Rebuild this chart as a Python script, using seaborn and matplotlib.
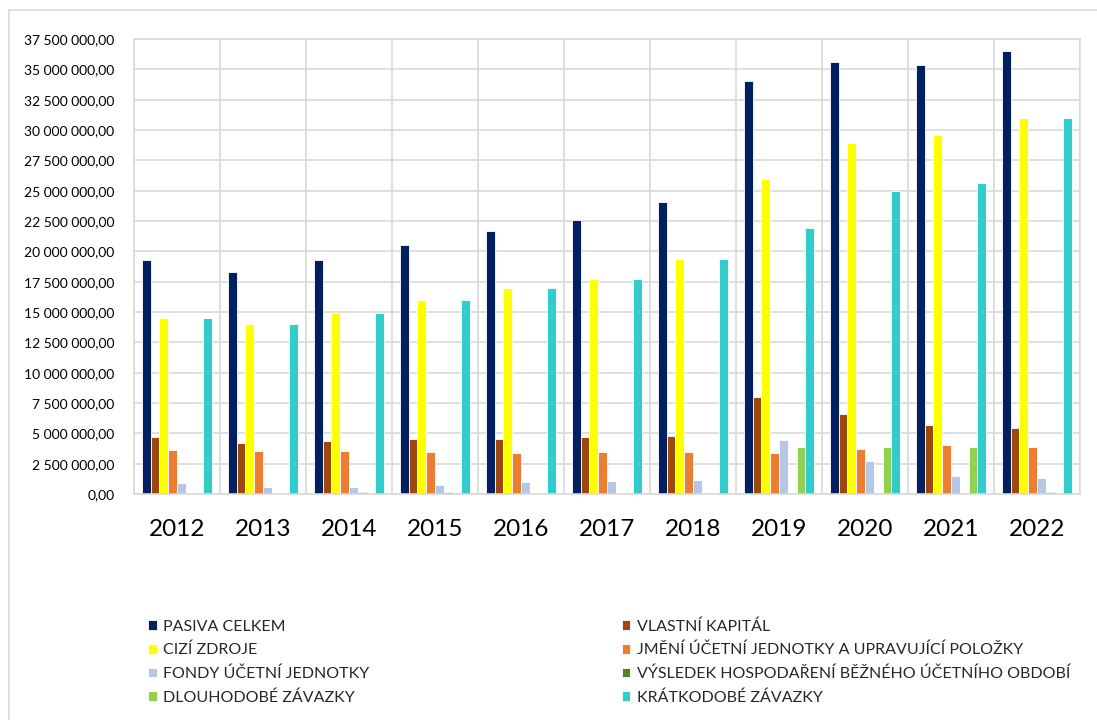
import pandas as pd
import matplotlib.pyplot as plt
import seaborn as sns
from matplotlib.ticker import FuncFormatter, MultipleLocator
from matplotlib.lines import Line2D

years = ["2012", "2013", "2014", "2015", "2016", "2017", "2018", "2019", "2020", "2021", "2022"]

series = [
    "PASIVA CELKEM",
    "VLASTNÍ KAPITÁL",
    "CIZÍ ZDROJE",
    "JMĚNÍ ÚČETNÍ JEDNOTKY A UPRAVUJÍCÍ POLOŽKY",
    "FONDY ÚČETNÍ JEDNOTKY",
    "VÝSLEDEK HOSPODAŘENÍ BĚŽNÉHO ÚČETNÍHO OBDOBÍ",
    "DLOUHODOBÉ ZÁVAZKY",
    "KRÁTKODOBÉ ZÁVAZKY",
]

pasiva = [19.3, 18.3, 19.25, 20.55, 21.65, 22.55, 24.1, 34.0, 35.6, 35.4, 36.5]
vlastni = [4.7, 4.2, 4.4, 4.52, 4.57, 4.68, 4.74, 8.0, 6.58, 5.7, 5.48]
cizi = [14.5, 14.05, 14.9, 15.95, 17.0, 17.75, 19.35, 25.95, 28.95, 29.6, 30.97]
jmeni = [3.65, 3.55, 3.55, 3.5, 3.4, 3.45, 3.47, 3.39, 3.72, 4.02, 3.88]
fondy = [0.9, 0.6, 0.6, 0.75, 0.97, 1.07, 1.13, 4.44, 2.75, 1.49, 1.35]
vysledek = [0.1, 0.0, 0.15, 0.15, 0.05, 0.05, 0.02, 0.1, 0.0, 0.05, 0.15]
dlouhodobe = [0.0, 0.0, 0.0, 0.0, 0.0, 0.0, 0.0, 3.9, 3.9, 3.9, 0.0]
kratkodobe = [14.5, 14.05, 14.9, 15.95, 17.0, 17.75, 19.35, 21.95, 24.96, 25.6, 30.97]

colors = ["#002060", "#9E480E", "#FFFF00", "#ED7D31", "#B4C7E7", "#548235", "#92D050", "#33CCCC"]

values = [pasiva, vlastni, cizi, jmeni, fondy, vysledek, dlouhodobe, kratkodobe]
rows = []
for name, vals in zip(series, values):
    for y, v in zip(years, vals):
        rows.append({"rok": y, "položka": name, "hodnota": v * 1_000_000})
df = pd.DataFrame(rows)

sns.set_style("white")
plt.rcParams["font.family"] = ["Lato", "DejaVu Sans"]

fig = plt.figure(figsize=(10.97, 7.2), dpi=100)
ax = fig.add_axes([0.1222, 0.3139, 0.8623, 0.6319])

sns.barplot(data=df, x="rok", y="hodnota", hue="položka", hue_order=series,
            palette=colors, width=0.82, edgecolor="white", linewidth=0.6,
            saturation=1, ax=ax, legend=True)

ax.set_ylim(0, 37_500_000)
ax.set_xlim(-0.5, len(years) - 0.5)
ax.yaxis.set_major_locator(MultipleLocator(2_500_000))
ax.yaxis.set_major_formatter(FuncFormatter(
    lambda v, p: f"{v:,.2f}".replace(",", " ").replace(".", ",")))
ax.set_xticks([i + 0.5 for i in range(-1, len(years))], minor=True)
ax.grid(axis="y", color="#d9d9d9", linewidth=1.2)
ax.grid(axis="x", which="minor", color="#d9d9d9", linewidth=1.2)
ax.grid(axis="x", which="major", visible=False)
ax.set_axisbelow(True)
for s in ax.spines.values():
    s.set_color("#d9d9d9")
    s.set_linewidth(1.2)
ax.tick_params(axis="both", which="both", length=0)
ax.tick_params(axis="y", labelsize=10, pad=14, colors="black")
ax.tick_params(axis="x", labelsize=17.5, pad=18, colors="black")
ax.set_xlabel("")
ax.set_ylabel("")

handles, labels = ax.get_legend_handles_labels()
order = [0, 2, 4, 6, 1, 3, 5, 7]
ax.get_legend().remove()
fig.legend([handles[i] for i in order], [labels[i] for i in order],
           ncol=2, loc="upper left", bbox_to_anchor=(0.129, 0.149),
           frameon=False, fontsize=11.5, handlelength=0.55, handleheight=0.55,
           handletextpad=0.4, columnspacing=15.8, labelspacing=0.58,
           borderaxespad=0)

# outer chart frame
fig.add_artist(Line2D([9 / 1097, 9 / 1097], [0, 1 - 10 / 720], color="#d9d9d9", linewidth=1.2))
fig.add_artist(Line2D([9 / 1097, 1], [1 - 10 / 720, 1 - 10 / 720], color="#d9d9d9", linewidth=1.2))

fig.savefig("out.png", dpi=100)
